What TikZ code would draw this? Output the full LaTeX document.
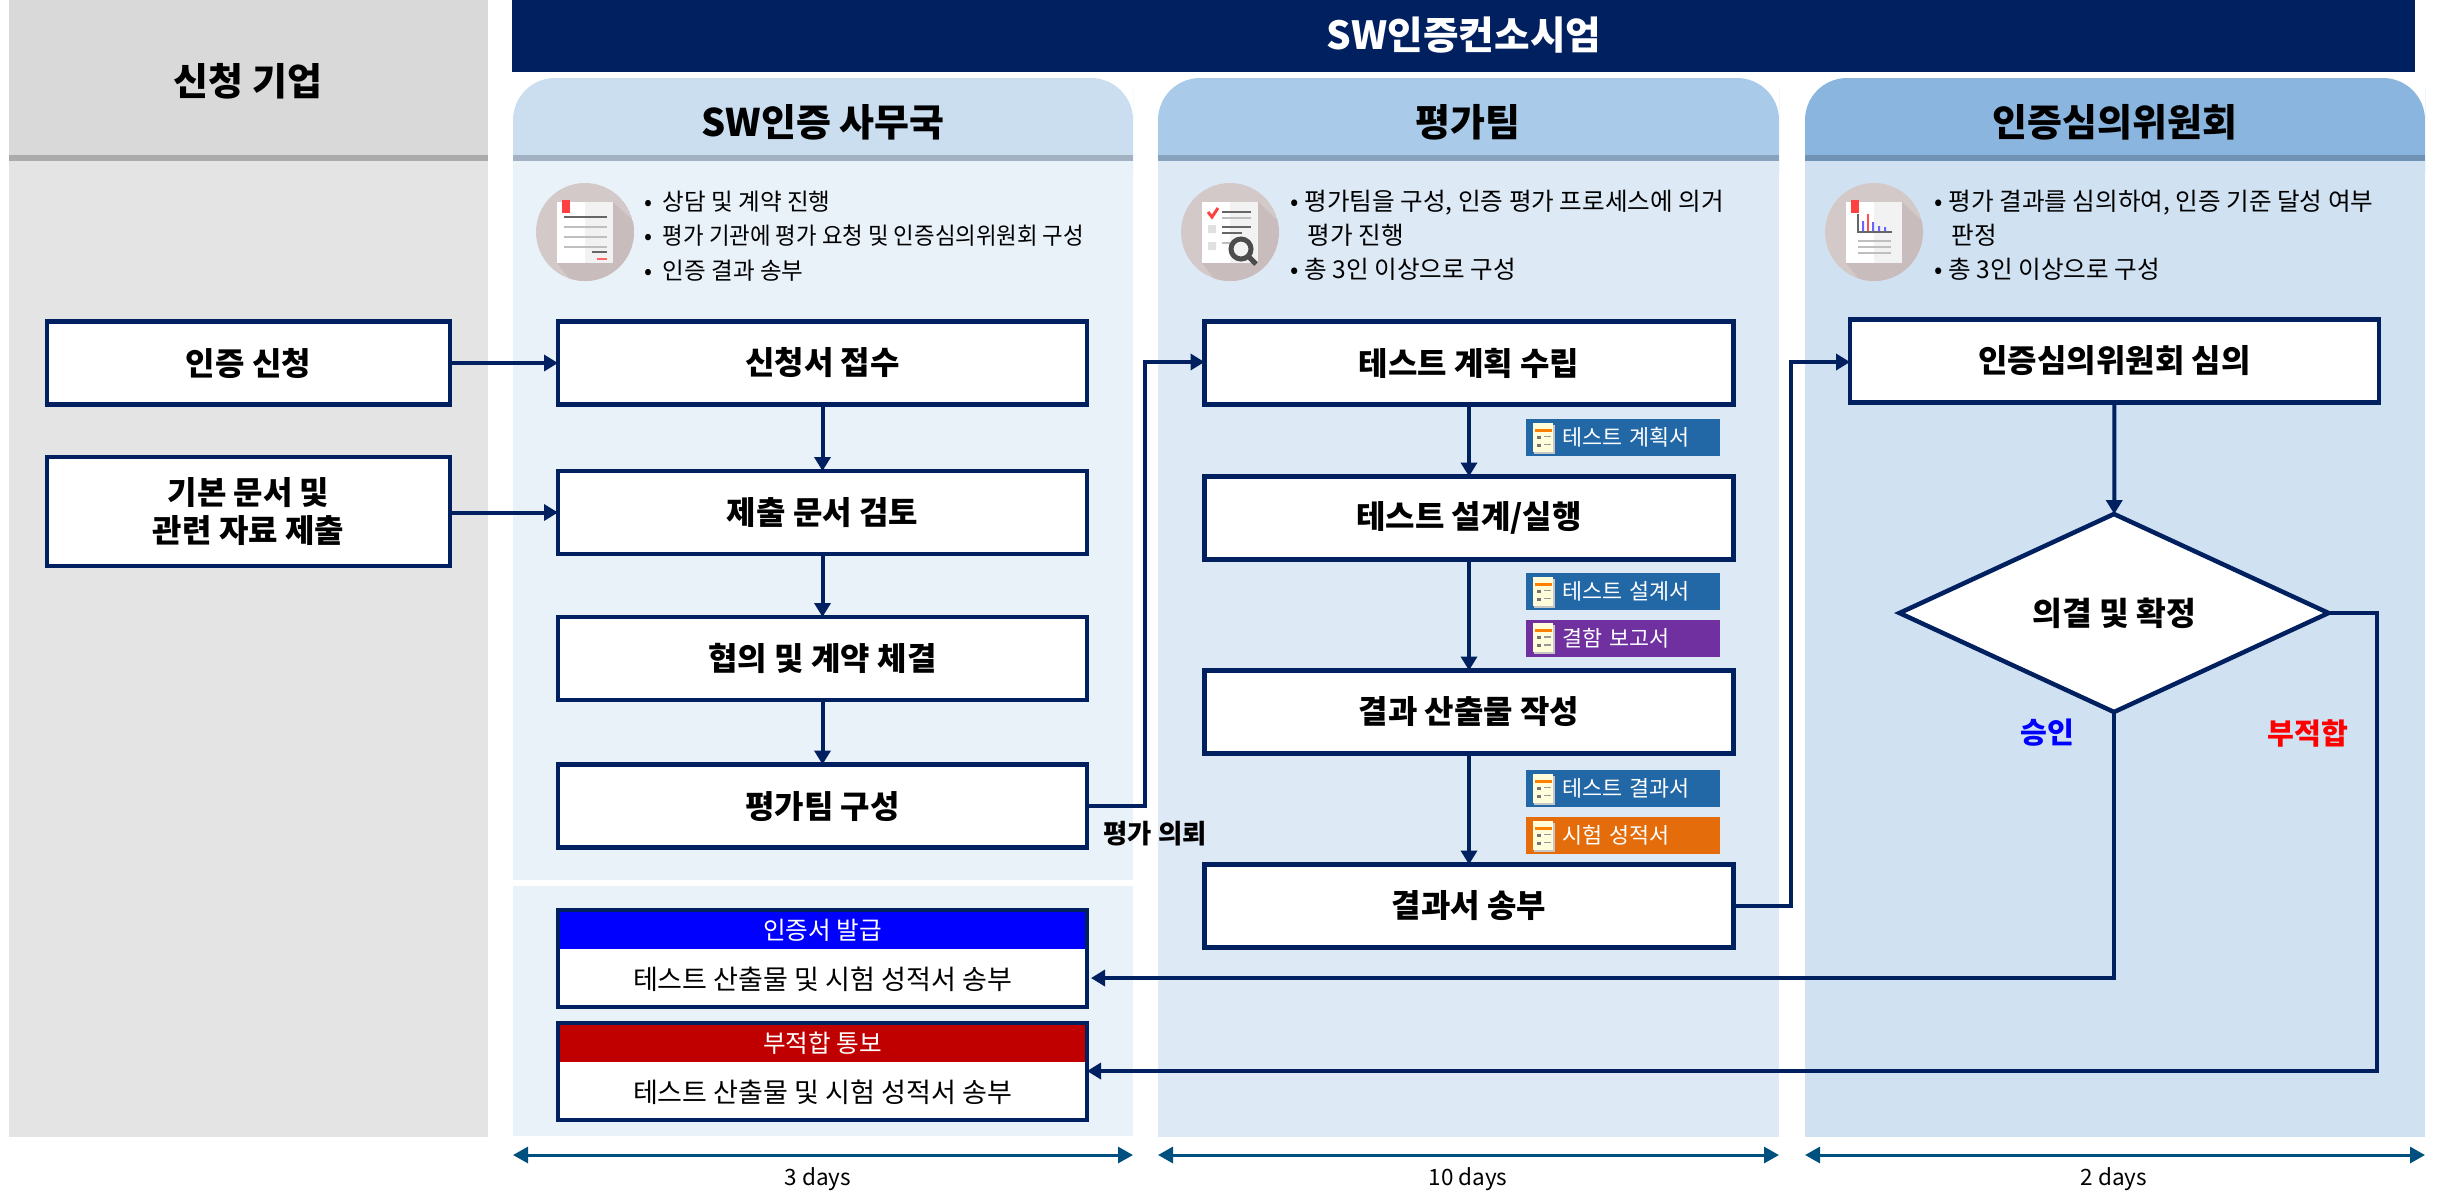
\documentclass[tikz,border=0pt]{standalone}
\usepackage{fontspec}
\setmainfont{Noto Sans CJK KR}
\usetikzlibrary{shapes.geometric, arrows.meta, positioning, calc}

\definecolor{navy}{HTML}{002060}
\definecolor{dayblue}{HTML}{00507F}
\definecolor{tagblue}{HTML}{2268A6}
\definecolor{tagpurple}{HTML}{7030A0}
\definecolor{tagorange}{HTML}{E46C0A}
\definecolor{circlegray}{HTML}{D3C9C9}
\definecolor{shadegray}{HTML}{C9BCBC}

\tikzset{
    pagecircle/.pic={
        \begin{scope}
            \clip (0,0) circle (0.49);
            \fill[circlegray] (0,0) circle (0.49);
            \fill[shadegray] (-0.28,-0.31) -- (0.28,0.30) -- (0.6,0) -- (0.3,-0.6) -- (-0.05,-0.6) -- cycle;
        \end{scope}
        \fill[white] (-0.28,0.30) rectangle (0.28,-0.31);
        \fill[black!5] (0,0.30) rectangle (0.28,-0.31);
    },
    tagpage/.pic={
        \fill[black!22] (-0.09,0.13) rectangle (0.12,-0.16);
        \fill[white!85!yellow] (-0.10,0.15) rectangle (0.10,-0.14);
        \fill[orange] (-0.08,0.09) rectangle (0.09,0.06);
        \fill[black!55] (-0.06,0.02) rectangle (-0.02,-0.01);
        \fill[black!55] (-0.06,-0.06) rectangle (-0.02,-0.09);
        \draw[black!40, line width=0.015cm] (0.01,0.01) -- (0.08,0.01) (0.01,-0.07) -- (0.08,-0.07);
    }
}

\begin{document}
\begin{tikzpicture}[
    flowbox/.style={draw=navy, line width=0.045cm, rectangle, minimum height=0.83cm, minimum width=5.29cm, fill=white, align=center, outer sep=0pt, inner sep=0pt, font=\fontsize{9.1}{10.6}\selectfont\bfseries},
    resultbox/.style={draw=navy, line width=0.045cm, rectangle, minimum height=0.97cm, minimum width=5.29cm, fill=white, outer sep=0pt, inner sep=0pt},
    headbar/.style={rectangle, minimum height=0.37cm, minimum width=5.25cm, text=white, outer sep=0pt, inner sep=0pt, font=\fontsize{7}{8}\selectfont},
    resulttext/.style={minimum height=0.60cm, outer sep=0pt, inner sep=0pt, font=\fontsize{7.7}{9}\selectfont},
    doctag/.style={rectangle, minimum height=0.37cm, text width=1.94cm, align=left, text=white, inner xsep=0pt, inner ysep=0pt, font=\fontsize{6.2}{8}\selectfont, execute at begin node={\hspace*{0.36cm}}},
    title/.style={font=\fontsize{10.8}{13}\selectfont\bfseries, inner sep=0pt},
    bullets/.style={anchor=north west, align=left, inner sep=0pt, font=\fontsize{7}{9.8}\selectfont},
    flow/.style={draw=navy, line width=0.04cm, -{Triangle[length=0.14cm, width=0.16cm]}},
    days/.style={draw=dayblue, line width=0.03cm, {Triangle[length=0.15cm, width=0.16cm]}-{Triangle[length=0.15cm, width=0.16cm]}},
    dayslabel/.style={font=\fontsize{6.4}{8}\selectfont, inner sep=0pt}
]

    \useasboundingbox (0,0) rectangle (24.45,-11.91);

    % Applicant panel
    \fill[black!10.5] (0.09,-1.55) rectangle (4.875,-11.37);
    \fill[black!15] (0.09,0) rectangle (4.875,-1.55);
    \fill[black!33] (0.09,-1.55) rectangle (4.875,-1.61);
    \node[title] (applicant) at (2.48,-0.81) {신청 기업};

    % Consortium banner
    \fill[navy] (5.12,0) rectangle (24.15,-0.72);
    \node[title, text=white, font=\fontsize{11}{13}\selectfont\bfseries] (consortium) at (14.64,-0.35) {SW인증컨소시엄};

    % Column backgrounds
    \fill[fill={rgb,255:red,203;green,222;blue,240}] (5.13,-1.55) -- (5.13,-1.3) [rounded corners=0.42cm] -- (5.13,-0.78) -- (11.33,-0.78) -- (11.33,-1.3) [sharp corners] -- (11.33,-1.55) -- cycle;
    \fill[fill={rgb,255:red,233;green,241;blue,249}] (5.13,-1.61) rectangle (11.33,-8.80);
    \fill[fill={rgb,255:red,233;green,241;blue,249}] (5.13,-8.86) rectangle (11.33,-11.36);
    \fill[fill={rgb,255:red,162;green,178;blue,195}] (5.13,-1.55) rectangle (11.33,-1.61);

    \fill[fill={rgb,255:red,169;green,202;blue,233}] (11.58,-1.55) -- (11.58,-1.3) [rounded corners=0.42cm] -- (11.58,-0.78) -- (17.79,-0.78) -- (17.79,-1.3) [sharp corners] -- (17.79,-1.55) -- cycle;
    \fill[fill={rgb,255:red,221;green,234;blue,246}] (11.58,-1.61) rectangle (17.79,-11.37);
    \fill[fill={rgb,255:red,135;green,162;blue,188}] (11.58,-1.55) rectangle (17.79,-1.61);

    \fill[fill={rgb,255:red,138;green,181;blue,222}] (18.05,-1.55) -- (18.05,-1.3) [rounded corners=0.42cm] -- (18.05,-0.78) -- (24.25,-0.78) -- (24.25,-1.3) [sharp corners] -- (24.25,-1.55) -- cycle;
    \fill[fill={rgb,255:red,208;green,225;blue,242}] (18.05,-1.61) rectangle (24.25,-11.37);
    \fill[fill={rgb,255:red,111;green,146;blue,181}] (18.05,-1.55) rectangle (24.25,-1.61);

    % Column titles
    \node[title] (office) at (8.23,-1.22) {SW인증 사무국};
    \node[title] (evalteam) at (14.68,-1.22) {평가팀};
    \node[title] (committee) at (21.15,-1.22) {인증심의위원회};

    % Icons
    \pic at (5.85,-2.32) {pagecircle};
    \fill[red!75] (5.62,-2.00) rectangle (5.70,-2.13);
    \draw[black!60, line width=0.025cm] (5.64,-2.17) -- (6.07,-2.17);
    \draw[black!25, line width=0.025cm] (5.64,-2.27) -- (6.07,-2.27) (5.64,-2.37) -- (6.07,-2.37) (5.64,-2.47) -- (6.07,-2.47);
    \draw[black!60, line width=0.025cm] (5.92,-2.52) -- (6.07,-2.52);
    \draw[red!60, line width=0.025cm] (5.97,-2.59) -- (6.07,-2.59);

    \pic at (12.30,-2.32) {pagecircle};
    \draw[red!75, line width=0.03cm] (12.08,-2.12) -- (12.12,-2.17) -- (12.18,-2.08);
    \fill[black!12] (12.08,-2.25) rectangle (12.16,-2.33) (12.08,-2.42) rectangle (12.16,-2.50);
    \draw[black!60, line width=0.025cm] (12.22,-2.12) -- (12.51,-2.12) (12.22,-2.27) -- (12.51,-2.27) (12.22,-2.33) -- (12.42,-2.33);
    \draw[black!25, line width=0.025cm] (12.22,-2.18) -- (12.51,-2.18) (12.22,-2.43) -- (12.30,-2.43);
    \draw[black!70, line width=0.05cm] (12.41,-2.49) circle (0.10) (12.48,-2.56) -- (12.56,-2.64);

    \pic at (18.74,-2.32) {pagecircle};
    \fill[red!75] (18.51,-2.00) rectangle (18.59,-2.13);
    \draw[black!60, line width=0.02cm] (18.58,-2.14) |- (18.92,-2.32);
    \fill[blue!60] (18.62,-2.31) rectangle (18.64,-2.21) (18.72,-2.31) rectangle (18.74,-2.22) (18.78,-2.31) rectangle (18.80,-2.26) (18.84,-2.31) rectangle (18.86,-2.27);
    \fill[red!70] (18.67,-2.31) rectangle (18.69,-2.14);
    \draw[black!25, line width=0.025cm] (18.58,-2.41) -- (18.91,-2.41) (18.58,-2.47) -- (18.91,-2.47) (18.58,-2.53) -- (18.91,-2.53);

    % Descriptions
    \node[bullets, font=\fontsize{6.7}{9.8}\selectfont] (officetext) at (6.44,-1.90) {•\hspace{0.05cm} 상담 및 계약 진행\\•\hspace{0.05cm} \scalebox{0.95}[1]{평가 기관에 평가 요청 및 인증심의위원회 구성}\\•\hspace{0.05cm} 인증 결과 송부};
    \node[bullets] (teamtext) at (12.90,-1.89) {• 평가팀을 구성, 인증 평가 프로세스에 의거\\\hspace*{0.17cm}평가 진행\\• 총 3인 이상으로 구성};
    \node[bullets] (committeetext) at (19.34,-1.89) {• 평가 결과를 심의하여, 인증 기준 달성 여부\\\hspace*{0.17cm}판정\\• 총 3인 이상으로 구성};

    % Applicant boxes
    \node[flowbox, minimum width=4.03cm] (apply) at (2.485,-3.63) {인증 신청};
    \node[flowbox, minimum width=4.03cm, minimum height=1.09cm] (submit) at (2.485,-5.115) {기본 문서 및\\관련 자료 제출};

    % Office boxes
    \node[flowbox] (receive) at (8.225,-3.63) {신청서 접수};
    \node[flowbox, below=0.665cm of receive] (review) {제출 문서 검토};
    \node[flowbox, below=0.63cm of review] (contract) {협의 및 계약 체결};
    \node[flowbox, below=0.645cm of contract] (teamup) {평가팀 구성};

    % Result boxes
    \node[resultbox] (certbox) at (8.225,-9.585) {};
    \node[headbar, fill=blue, below=0.02cm of certbox.north] (certhead) {인증서 발급};
    \node[resulttext, below=0cm of certhead] (certtext) {테스트 산출물 및 시험 성적서 송부};
    \node[resultbox] (failbox) at (8.225,-10.715) {};
    \node[headbar, fill={rgb,255:red,192;green,0;blue,0}, below=0.02cm of failbox.north] (failhead) {부적합 통보};
    \node[resulttext, below=0cm of failhead] (failtext) {테스트 산출물 및 시험 성적서 송부};

    % Team boxes
    \node[flowbox] (plan) at (14.69,-3.63) {테스트 계획 수립};
    \node[flowbox, below=0.72cm of plan] (design) {테스트 설계/실행};
    \node[flowbox, below=1.11cm of design] (output) {결과 산출물 작성};
    \node[flowbox, below=1.11cm of output] (send) {결과서 송부};

    % Document tags
    \node[doctag, fill=tagblue] (plandoc) at (16.23,-4.375) {테스트 계획서};
    \node[doctag, fill=tagblue] (designdoc) at (16.23,-5.915) {테스트 설계서};
    \node[doctag, fill=tagpurple] (defectdoc) at (16.23,-6.38) {결함 보고서};
    \node[doctag, fill=tagblue] (resultdoc) at (16.23,-7.885) {테스트 결과서};
    \node[doctag, fill=tagorange] (gradedoc) at (16.23,-8.355) {시험 성적서};
    \pic at ($(plandoc.west)+(0.18,0)$) {tagpage};
    \pic at ($(designdoc.west)+(0.18,0)$) {tagpage};
    \pic at ($(defectdoc.west)+(0.18,0)$) {tagpage};
    \pic at ($(resultdoc.west)+(0.18,0)$) {tagpage};
    \pic at ($(gradedoc.west)+(0.18,0)$) {tagpage};

    % Committee boxes
    \node[flowbox] (deliberate) at (21.145,-3.61) {인증심의위원회 심의};
    \node[draw=navy, line width=0.045cm, diamond, aspect=2.17, minimum width=4.29cm, minimum height=1.98cm, fill=white, inner sep=0pt, outer sep=0pt, font=\fontsize{9.2}{13}\selectfont\bfseries] (decide) at (21.14,-6.13) {의결 및 확정};

    % Arrows inside columns
    \draw[flow] (apply.east) -- (apply.east -| receive.west);
    \draw[flow] (submit.east |- review.west) -- (review.west);
    \draw[flow] (receive) -- (review);
    \draw[flow] (review) -- (contract);
    \draw[flow] (contract) -- (teamup);
    \draw[flow] (plan) -- (design);
    \draw[flow] (design) -- (output);
    \draw[flow] (output) -- (send);
    \draw[flow] (deliberate) -- (decide);

    % Arrows between columns
    \draw[flow] (teamup.east) -| (11.45,-3.62) -- (plan.west |- 0,-3.62);
    \draw[flow] (send.east) -| (17.91,-3.62) -- (deliberate.west |- 0,-3.62);
    \draw[flow] (decide.south) |- ($(certbox.east)+(0.04,-0.195)$);
    \draw[flow] (decide.east) -| (23.77,-10.71) -- (failbox.east |- 0,-10.71);

    % Flow labels
    \node[font=\fontsize{7.5}{9}\selectfont\bfseries, inner sep=0pt] (request) at (11.55,-8.34) {평가 의뢰};
    \node[font=\fontsize{8.3}{10}\selectfont\bfseries, text=blue, inner sep=0pt] (approved) at (20.47,-7.33) {승인};
    \node[font=\fontsize{8.3}{10}\selectfont\bfseries, text=red, inner sep=0pt] (rejected) at (23.08,-7.33) {부적합};

    % Durations
    \coordinate (office1) at (5.13,-11.55);
    \coordinate (office2) at (11.33,-11.55);
    \coordinate (team1) at (11.58,-11.55);
    \coordinate (team2) at (17.79,-11.55);
    \coordinate (committee1) at (18.05,-11.55);
    \coordinate (committee2) at (24.25,-11.55);
    \draw[days] (office1) -- (office2);
    \draw[days] (team1) -- (team2);
    \draw[days] (committee1) -- (committee2);
    \node[dayslabel] (officedays) at (8.18,-11.79) {3 days};
    \node[dayslabel] (teamdays) at (14.68,-11.79) {10 days};
    \node[dayslabel] (committeedays) at (21.14,-11.79) {2 days};

\end{tikzpicture}
\end{document}
